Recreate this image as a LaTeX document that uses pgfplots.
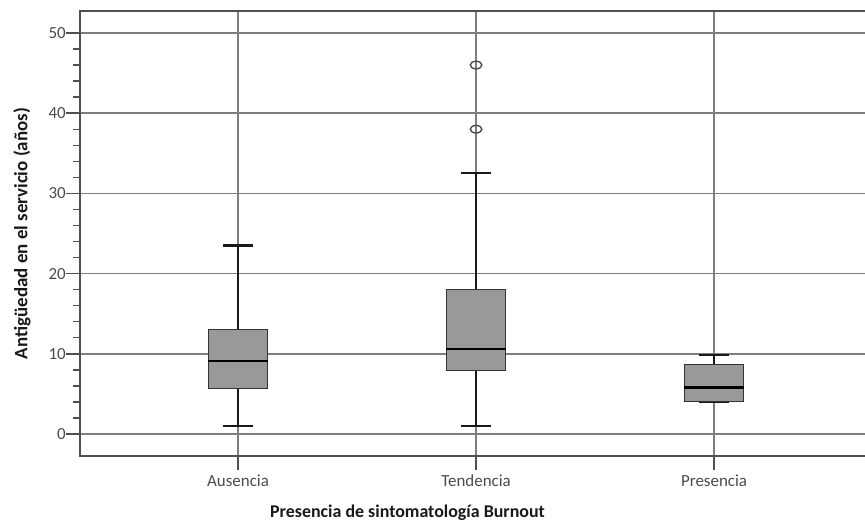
\documentclass[border=0pt]{standalone}
\usepackage{pgfplots}
\pgfplotsset{compat=1.18}
\usepgfplotslibrary{statistics}
\usepackage{fontspec}
\setmainfont{Carlito}
\definecolor{boxfill}{HTML}{999999}
\definecolor{gridc}{HTML}{7E7E7E}
\definecolor{framec}{HTML}{505050}
\definecolor{tickc}{HTML}{4A4A4A}
\begin{document}
\begin{tikzpicture}
\useasboundingbox (-80bp,-67bp) rectangle (785bp,456bp);
\begin{axis}[
  at={(0,0)}, anchor=south west,
  scale only axis, width=790bp, height=445bp,
  xmin=0.336, xmax=3.655, ymin=-2.74, ymax=52.74,
  xtick={1,2,3}, xticklabels={Ausencia,Tendencia,Presencia},
  ytick={0,10,20,30,40,50}, minor y tick num=4,
  tick pos=left, tick align=outside,
  major tick length=14bp, minor tick length=7bp,
  grid=major, major grid style={gridc, line width=1.6bp},
  axis line style={framec, line width=1.5bp},
  tick style={framec, line width=1.4bp},
  /pgf/number format/assume math mode=true,
  ticklabel style={font=\fontsize{17}{20}\selectfont, text=tickc},
  xticklabel style={anchor=base, yshift=-16bp},
  yticklabel style={anchor=east, inner sep=0pt, xshift=0bp},
  xlabel={\textbf{Presencia de sintomatología Burnout}},
  xlabel style={at={(rel axis cs:0.4146,0)}, anchor=base, yshift=-61bp, font=\fontsize{18}{20}\selectfont, text=black!90},
  ylabel={\textbf{Antigüedad en el servicio (años)}},
  ylabel style={at={(rel axis cs:-0.0848,0.5)}, anchor=north, inner sep=0pt, font=\fontsize{19}{21}\selectfont, text=black!90},
  boxplot/draw direction=y,
  boxplot/every box/.style={draw=black!80, fill=boxfill, line width=1.2bp},
  boxplot/every whisker/.style={black!90, line width=2.2bp},
  boxplot/every median/.style={black, line width=2.6bp},
]
\addplot[boxplot prepared={draw position=1, lower whisker=1, lower quartile=5.7, median=9.1, upper quartile=13, upper whisker=23.5, box extend=0.25, whisker extend=0.125}] coordinates {};
\addplot[mark=o, mark size=5.8bp, mark options={yscale=0.65, line width=1.4bp, draw=black!70},
  boxplot prepared={draw position=2, lower whisker=1, lower quartile=7.9, median=10.6, upper quartile=18, upper whisker=32.5, box extend=0.25, whisker extend=0.125}]
  table[row sep=\\, y index=0] {46\\ 38\\};
\addplot[boxplot prepared={draw position=3, lower whisker=4, lower quartile=4.05, median=5.8, upper quartile=8.7, upper whisker=9.85, box extend=0.25, whisker extend=0.125}] coordinates {};
\end{axis}
\end{tikzpicture}
\end{document}
